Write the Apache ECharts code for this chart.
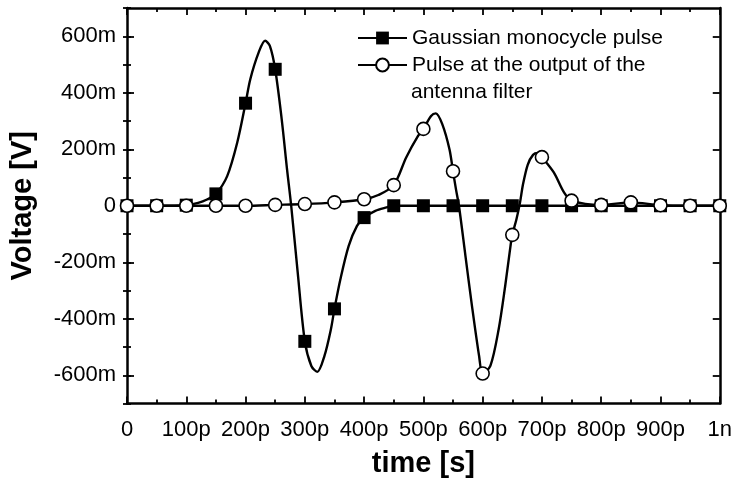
<!DOCTYPE html>
<html>
<head>
<meta charset="utf-8">
<script src="https://cdn.jsdelivr.net/npm/echarts@6/dist/echarts.min.js"></script>
<style>
  html, body { margin: 0; padding: 0; background: #fff; }
  #chart { width: 735px; height: 485px; }
</style>
</head>
<body>
<div id="chart"></div>
<script>
// Time axis in picoseconds, voltage in volts.
const gaussName = 'Gaussian monocycle pulse';
const filteredName = 'Pulse at the output of the\nantenna filter';

// Gaussian monocycle pulse (samples along the curve; markers every 50 ps)
const gaussTime = [0, 50, 100, 120, 135, 150, 169, 186, 200, 208, 222, 233, 241, 250, 261, 270, 277,
                   288, 300, 311, 321, 333, 344, 350, 360, 374, 388, 400, 419, 438, 450,
                   500, 550, 600, 650, 700, 750, 800, 850, 900, 950, 1000];
const gaussVolt = [0, 0, 0.002, 0.010, 0.022, 0.042, 0.105, 0.224, 0.363, 0.448, 0.542, 0.584, 0.566, 0.483, 0.306, 0.129, 0,
                   -0.237, -0.480, -0.567, -0.588, -0.532, -0.437, -0.365, -0.260, -0.142, -0.071, -0.042, -0.018, -0.006, 0,
                   0, 0, 0, 0, 0, 0, 0, 0, 0, 0, 0];

// Pulse at the output of the antenna filter
const filteredTime = [0, 50, 100, 150, 200, 250, 300, 350, 400, 424, 450, 471, 491, 500, 513, 521, 532, 544, 550,
                      555, 560, 571, 582, 594, 600, 613, 627, 638, 647, 650, 657, 663, 668, 676, 685, 693, 700,
                      720, 737, 750, 800, 850, 900, 950, 1000];
const filteredVolt = [0, 0, 0, 0, 0, 0.003, 0.006, 0.012, 0.023, 0.038, 0.073, 0.171, 0.247, 0.272, 0.318, 0.327, 0.288, 0.200, 0.122,
                      0.058, 0, -0.178, -0.355, -0.532, -0.594, -0.567, -0.437, -0.284, -0.142, -0.103, -0.048, 0.011, 0.075, 0.145, 0.180, 0.187, 0.172,
                      0.118, 0.048, 0.018, 0.003, 0.012, 0.002, 0, 0];

const markerStep = 50;

// Tick labels
const xTickLabels = ['0', '100p', '200p', '300p', '400p', '500p', '600p', '700p', '800p', '900p', '1n'];
const yTickValues = [-0.6, -0.4, -0.2, 0, 0.2, 0.4, 0.6];
const yTickLabels = ['-600m', '-400m', '-200m', '0', '200m', '400m', '600m'];

const FONT = '"Liberation Sans", Arial, sans-serif';

// Markers only on the 50 ps sample points; the rest only shape the line.
function buildData(times, volts) {
  return times.map((t, i) => (t % markerStep === 0)
    ? { value: [t, volts[i]] }
    : { value: [t, volts[i]], symbol: 'none' });
}

function yLabel(v) {
  const i = yTickValues.findIndex(u => Math.abs(u - v) < 1e-9);
  return i >= 0 ? yTickLabels[i] : '';
}

const frameLine = { show: true, onZero: false, lineStyle: { color: '#000', width: 2.5 } };
const majorTick = { show: true, inside: true, length: 7, lineStyle: { color: '#000', width: 1.8 } };
const minorTick = { show: true, inside: true, length: 4, lineStyle: { color: '#000', width: 1.8 } };

const xBase = { type: 'value', min: 0, max: 1000, interval: 100, splitLine: { show: false } };
const yBase = { type: 'value', min: -0.7, max: 0.7, splitLine: { show: false } };

// Legend rows: icon + first line, continuation line underneath
const legendLeft = 357, legendTop = 24.5, legendRow = 27, legendIconW = 49;
const [filteredLine1, filteredLine2] = filteredName.split('\n');

const chart = echarts.init(document.getElementById('chart'), null, { renderer: 'canvas' });

chart.setOption({
  backgroundColor: '#fff',
  animation: false,
  grid: { left: 125, right: 9, top: 8, bottom: 81.5, containLabel: false },
  legend: {
    orient: 'vertical',
    left: legendLeft,
    top: legendTop,
    padding: 0,
    itemWidth: legendIconW,
    itemHeight: 16,
    itemGap: 0,
    selectedMode: false,
    formatter: name => name.split('\n')[0],
    textStyle: { fontFamily: FONT, fontSize: 21, color: '#000', lineHeight: legendRow },
    data: [gaussName, filteredName]
  },
  graphic: [{
    type: 'text',
    left: legendLeft + legendIconW + 5,
    top: legendTop + 2 * legendRow,
    style: {
      text: filteredLine2, fill: '#000', font: '21px ' + FONT,
      lineHeight: legendRow, verticalAlign: 'top'
    }
  }],
  xAxis: [
    Object.assign({}, xBase, {
      position: 'bottom',
      axisLine: frameLine,
      axisTick: majorTick,
      minorTick: Object.assign({ splitNumber: 2 }, minorTick),
      axisLabel: {
        margin: 15, fontFamily: FONT, fontSize: 22, color: '#000',
        formatter: v => xTickLabels[Math.round(v / 100)]
      },
      name: 'time [s]',
      nameLocation: 'middle',
      nameGap: 46,
      nameTextStyle: { fontFamily: FONT, fontSize: 29, fontWeight: 'bold', color: '#000' }
    }),
    Object.assign({}, xBase, {
      position: 'top',
      axisLine: frameLine,
      axisTick: majorTick,
      minorTick: Object.assign({ splitNumber: 2 }, minorTick),
      axisLabel: { show: false }
    })
  ],
  yAxis: [
    Object.assign({}, yBase, {
      position: 'left',
      axisLine: frameLine,
      axisTick: Object.assign({ customValues: yTickValues }, majorTick),
      axisLabel: {
        customValues: yTickValues, margin: 11, fontFamily: FONT, fontSize: 22, color: '#000',
        formatter: yLabel
      },
      name: 'Voltage [V]',
      nameLocation: 'middle',
      nameGap: 90,
      nameTextStyle: { fontFamily: FONT, fontSize: 29, fontWeight: 'bold', color: '#000' }
    }),
    Object.assign({}, yBase, {
      position: 'left', interval: 0.1,
      axisLine: { show: false },
      axisTick: minorTick,
      axisLabel: { show: false }
    }),
    Object.assign({}, yBase, {
      position: 'right',
      axisLine: frameLine,
      axisTick: Object.assign({ customValues: yTickValues }, majorTick),
      axisLabel: { show: false }
    }),
    Object.assign({}, yBase, {
      position: 'right', interval: 0.1,
      axisLine: { show: false },
      axisTick: minorTick,
      axisLabel: { show: false }
    })
  ],
  series: [
    {
      name: gaussName,
      type: 'line',
      xAxisIndex: 0,
      yAxisIndex: 0,
      data: buildData(gaussTime, gaussVolt),
      smooth: 0.3,
      showAllSymbol: true,
      symbol: 'rect',
      symbolSize: 13,
      lineStyle: { color: '#000', width: 2.4 },
      itemStyle: { color: '#000', borderColor: '#000', borderWidth: 0 },
      emphasis: { disabled: true }
    },
    {
      name: filteredName,
      type: 'line',
      xAxisIndex: 0,
      yAxisIndex: 0,
      data: buildData(filteredTime, filteredVolt),
      smooth: 0.3,
      showAllSymbol: true,
      symbol: 'circle',
      symbolSize: 13,
      lineStyle: { color: '#000', width: 2.4 },
      itemStyle: { color: '#fff', borderColor: '#000', borderWidth: 1.6 },
      emphasis: { disabled: true }
    }
  ]
});
</script>
</body>
</html>
